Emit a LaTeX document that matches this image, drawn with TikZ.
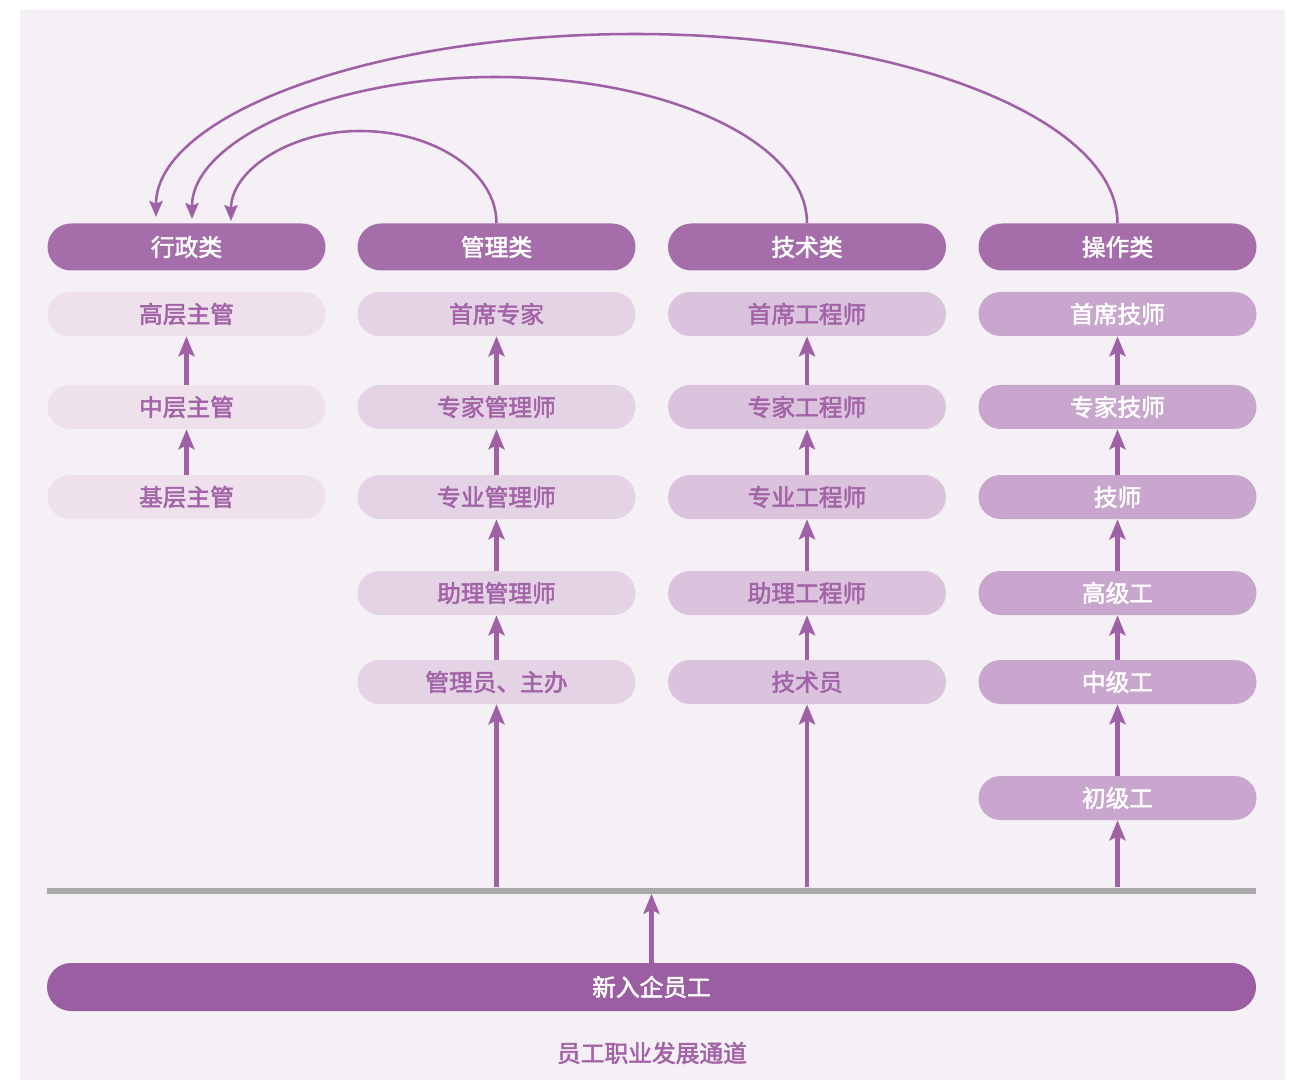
\documentclass[tikz,border=0pt]{standalone}
\usepackage{fontspec}
\setmainfont{Noto Sans CJK SC}[RawFeature={embolden=2.2}]
\usetikzlibrary{arrows.meta}
\definecolor{bgc}{HTML}{F5F0F6}
\definecolor{hdrc}{HTML}{A56DAA}
\definecolor{barc}{HTML}{9C5EA2}
\definecolor{cone}{HTML}{EEE1EC}
\definecolor{ctwo}{HTML}{E4D2E5}
\definecolor{cthree}{HTML}{DBC3DD}
\definecolor{cfour}{HTML}{C9A6CD}
\definecolor{txtc}{HTML}{A263A7}
\definecolor{arrc}{HTML}{A060A6}
\definecolor{grayc}{HTML}{A9A9A9}
\begin{document}
\begin{tikzpicture}[x=0.75pt,y=-0.75pt,
  pill/.style={rectangle,rounded corners=16.5pt,minimum width=208.5pt,minimum height=33pt,inner sep=0pt,font=\fontsize{17.8}{20}\selectfont},
  hdr/.style={pill,fill=hdrc,text=white,minimum height=35.25pt,rounded corners=17.6pt},
  lvone/.style={pill,fill=cone,text=txtc},
  lvtwo/.style={pill,fill=ctwo,text=txtc},
  lvthree/.style={pill,fill=cthree,text=txtc},
  lvfour/.style={pill,fill=cfour,text=white},
  arr/.style={draw=arrc,line width=3.3pt,-{Stealth[length=15pt,width=12pt,inset=3pt]}},
  curve/.style={draw=arrc,line width=1.9pt,-{Stealth[length=12pt,width=10pt,inset=2pt]}}]
\useasboundingbox (0,0) rectangle (1296,1080);
\fill[bgc] (20,10) rectangle (1285,1080);

% headers
\node[hdr] (xz) at (186.5,247) {行政类};
\node[hdr] (gl) at (496.5,247) {管理类};
\node[hdr] (js) at (807,247) {技术类};
\node[hdr] (cz) at (1117.5,247) {操作类};

% column 1
\node[lvone] (a1) at (186.5,314) {高层主管};
\node[lvone] (a2) at (186.5,407) {中层主管};
\node[lvone] (a3) at (186.5,497) {基层主管};

% column 2
\node[lvtwo] (b1) at (496.5,314) {首席专家};
\node[lvtwo] (b2) at (496.5,407) {专家管理师};
\node[lvtwo] (b3) at (496.5,497) {专业管理师};
\node[lvtwo] (b4) at (496.5,593) {助理管理师};
\node[lvtwo] (b5) at (496.5,682) {管理员、主办};

% column 3
\node[lvthree] (c1) at (807,314) {首席工程师};
\node[lvthree] (c2) at (807,407) {专家工程师};
\node[lvthree] (c3) at (807,497) {专业工程师};
\node[lvthree] (c4) at (807,593) {助理工程师};
\node[lvthree] (c5) at (807,682) {技术员};

% column 4
\node[lvfour] (d1) at (1117.5,314) {首席技师};
\node[lvfour] (d2) at (1117.5,407) {专家技师};
\node[lvfour] (d3) at (1117.5,497) {技师};
\node[lvfour] (d4) at (1117.5,593) {高级工};
\node[lvfour] (d5) at (1117.5,682) {中级工};
\node[lvfour] (d6) at (1117.5,798) {初级工};

% base line and new staff bar
\node[fill=grayc,minimum width=906.75pt,minimum height=4.5pt,inner sep=0pt] (base) at (651.5,890.5) {};
\node[pill,fill=barc,text=white,minimum width=906.75pt,minimum height=36pt,rounded corners=18pt] (nb) at (651.5,987) {新入企员工};
\node[font=\fontsize{17.8}{20}\selectfont,text=txtc] (cap) at (652,1053) {员工职业发展通道};

% vertical arrows
\draw[arr] (a2.north) -- (a1.south);
\draw[arr] (a3.north) -- (a2.south);
\draw[arr] (b2.north) -- (b1.south);
\draw[arr] (b3.north) -- (b2.south);
\draw[arr] (b4.north) -- (b3.south);
\draw[arr] (b5.north) -- (b4.south);
\draw[arr] (c2.north) -- (c1.south);
\draw[arr] (c3.north) -- (c2.south);
\draw[arr] (c4.north) -- (c3.south);
\draw[arr] (c5.north) -- (c4.south);
\draw[arr] (d2.north) -- (d1.south);
\draw[arr] (d3.north) -- (d2.south);
\draw[arr] (d4.north) -- (d3.south);
\draw[arr] (d5.north) -- (d4.south);
\draw[arr] (d6.north) -- (d5.south);
\draw[arr] (base.north -| b5.south) -- (b5.south);
\draw[arr] (base.north -| c5.south) -- (c5.south);
\draw[arr] (base.north -| d6.south) -- (d6.south);
\draw[arr] (nb.north) -- (base.south);

% curved connectors to 行政类
\coordinate (p1) at (360,131);
\coordinate (e1) at (231,221);
\coordinate (p2) at (495,77);
\coordinate (e2) at (192,219);
\coordinate (p3) at (635,34);
\coordinate (e3) at (156,217);
\draw[curve] (gl.north) .. controls +(0,-51) and +(75,0) .. (p1) .. controls +(-71,0) and +(0,-50) .. (e1);
\draw[curve] (js.north) .. controls +(0,-81) and +(172,0) .. (p2) .. controls +(-167,0) and +(0,-78) .. (e2);
\draw[curve] (cz.north) .. controls +(0,-105) and +(266,0) .. (p3) .. controls +(-265,0) and +(0,-101) .. (e3);
\end{tikzpicture}
\end{document}
